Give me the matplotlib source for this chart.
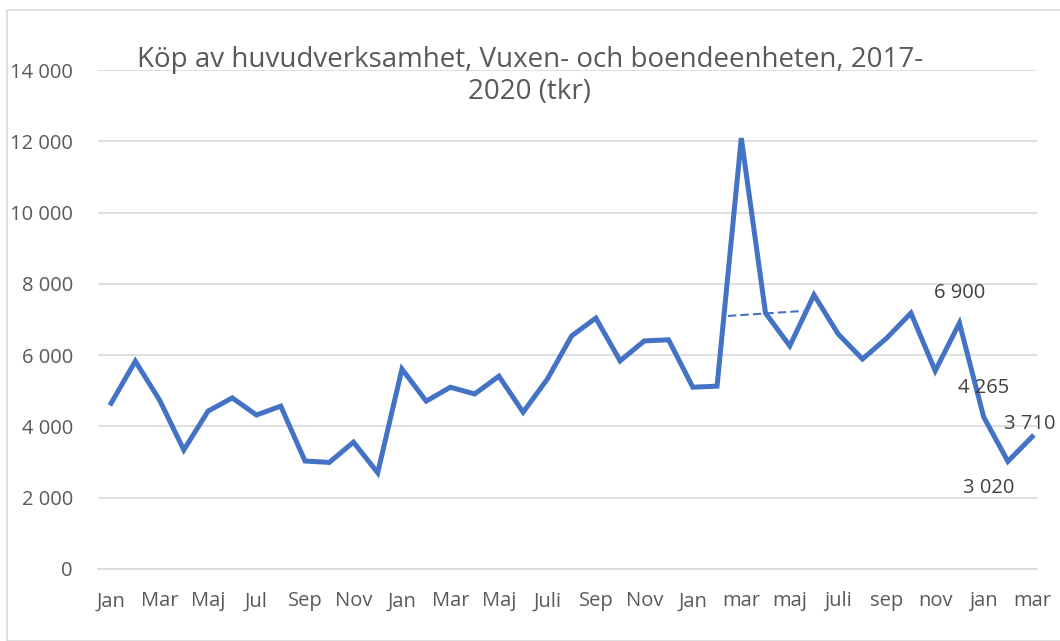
import matplotlib.pyplot as plt
from matplotlib.patches import Rectangle

months = ['Jan', 'Feb', 'Mar', 'Apr', 'Maj', 'Jun', 'Jul', 'Aug', 'Sep', 'Okt', 'Nov', 'Dec',
          'Jan', 'Feb', 'Mar', 'Apr', 'Maj', 'Jun', 'Juli', 'Aug', 'Sep', 'Okt', 'Nov', 'Dec',
          'Jan', 'feb', 'mar', 'apr', 'maj', 'jun', 'juli', 'aug', 'sep', 'okt', 'nov', 'dec',
          'jan', 'feb', 'mar']
values = [4650, 5830, 4740, 3340, 4430, 4800, 4320, 4570, 3030, 2990, 3560, 2700,
          5610, 4710, 5100, 4910, 5410, 4400, 5330, 6540, 7040, 5840, 6400, 6430,
          5100, 5130, 12090, 7180, 6260, 7690, 6590, 5890, 6480, 7180, 5560, 6900,
          4265, 3020, 3710]
trend_x = [25.45, 28.55]
trend_y = [7100, 7240]
labeled = {35: '6 900', 36: '4 265', 37: '3 020', 38: '3 710'}
yticks = [0, 2000, 4000, 6000, 8000, 10000, 12000, 14000]

blue = '#4472C4'
grey = '#595959'
font = 'Open Sans'

fig = plt.figure(figsize=(10.6, 6.41), dpi=100)
fig.patches.append(Rectangle((7 / 1060, 0), 1, 1 - 10 / 641, transform=fig.transFigure,
                             fill=False, edgecolor='#d9d9d9', linewidth=1.2))
ax = fig.add_axes([98 / 1060, 72 / 641, (1037 - 98) / 1060, (569 - 70) / 641])

x = list(range(len(values)))
ax.plot(x, values, color=blue, linewidth=3.6, solid_joinstyle='miter')
ax.plot(trend_x, trend_y, color=blue, linewidth=1.5, linestyle=(0, (4, 2)))

offsets = {35: (0, 22), 36: (0, 21), 37: (-14, -19), 38: (-2, 9)}
for i, txt in labeled.items():
    dx, dy = offsets[i]
    ax.annotate(txt, (i, values[i]), xytext=(dx, dy), textcoords='offset points',
                ha='center', va='center', fontsize=14.5, color='#404040', family=font)

ax.set_xlim(-0.54, 38.2)
ax.set_ylim(0, 14000)
ax.set_yticks(yticks)
ax.set_yticklabels([f'{v:,}'.replace(',', ' ') for v in yticks])
ax.set_xticks(x[::2])
ax.set_xticklabels(months[::2])
ax.grid(axis='y', color='#d9d9d9', linewidth=1.2)
ax.set_axisbelow(True)
for s in ['top', 'right', 'left']:
    ax.spines[s].set_visible(False)
ax.spines['bottom'].set_color('#d9d9d9')
ax.spines['bottom'].set_linewidth(1.2)
ax.tick_params(length=0, labelsize=14.5, colors=grey)
ax.tick_params(axis='x', pad=16)
ax.tick_params(axis='y', pad=18)
for lab in ax.get_xticklabels() + ax.get_yticklabels():
    lab.set_family(font)

fig.text(0.5, 0.882, 'Köp av huvudverksamhet, Vuxen- och boendeenheten, 2017-\n2020 (tkr)',
         ha='center', va='center', fontsize=20, color=grey, family=font, linespacing=1.2)

fig.savefig('out.png', dpi=100)
